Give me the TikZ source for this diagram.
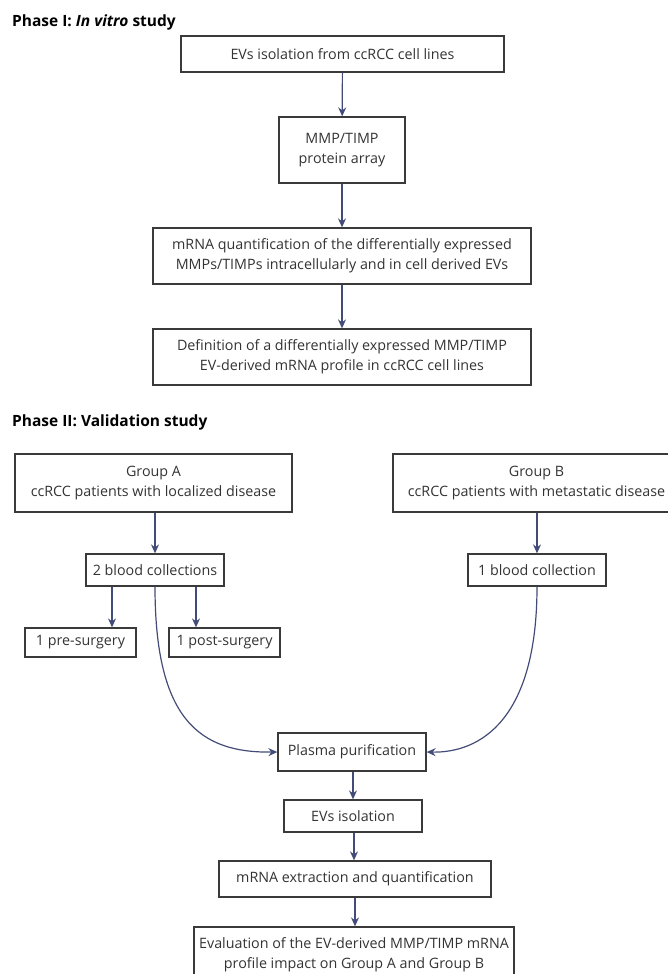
\documentclass[tikz,border=0pt]{standalone}
\usepackage{fontspec}
\setmainfont{Open Sans}
\usetikzlibrary{arrows.meta}
\definecolor{arrcol}{HTML}{434C78}
\definecolor{boxcol}{HTML}{3A3A3A}
\definecolor{txtcol}{HTML}{333333}
\tikzset{
  box/.style={draw=boxcol, line width=1.3pt, rectangle, inner sep=0pt, align=center,
    text=txtcol, font=\fontsize{14.3}{20}\selectfont},
  arr/.style={draw=arrcol, line width=1.2pt, -{Stealth[length=9pt,width=8pt,inset=3pt]}},
  ttl/.style={anchor=west, inner sep=0pt, text=black, font=\fontsize{15.5}{18}\selectfont\bfseries}
}
\begin{document}
\begin{tikzpicture}[x=1pt,y=-1pt]
\useasboundingbox (0,0) rectangle (667,974);
\node[ttl] (t1) at (12,22) {Phase I: \textit{In vitro} study};
\node[box, minimum width=323pt, minimum height=36pt] (b1) at (342.5,54) {EVs isolation from ccRCC cell lines};
\node[box, minimum width=126pt, minimum height=66pt] (b2) at (342,150) {MMP/TIMP\\protein array};
\node[box, minimum width=378pt, minimum height=56pt] (b3) at (342,256) {mRNA quantification of the differentially expressed\\MMPs/TIMPs intracellularly and in cell derived EVs};
\node[box, minimum width=378pt, minimum height=56pt] (b4) at (342,357) {Definition of a differentially expressed MMP/TIMP\\EV-derived mRNA profile in ccRCC cell lines};
\draw[arr] (b1) -- (b2);
\draw[arr] (b2) -- (b3);
\draw[arr] (b3) -- (b4);
\node[ttl] (t2) at (12,422) {Phase II: Validation study};
\node[box, minimum width=277pt, minimum height=58pt] (ga) at (153.5,483) {Group A\\ccRCC patients with localized disease};
\node[box, minimum width=287pt, minimum height=58pt] (gb) at (536.5,483) {Group B\\ccRCC patients with metastatic disease};
\node[box, minimum width=138pt, minimum height=32pt] (bc2) at (155,570) {2 blood collections};
\node[box, minimum width=138pt, minimum height=32pt] (bc1) at (537,570) {1 blood collection};
\node[box, minimum width=111pt, minimum height=29pt] (pre) at (80.5,642.5) {1 pre-surgery};
\node[box, minimum width=111pt, minimum height=29pt] (post) at (224.5,642.5) {1 post-surgery};
\node[box, minimum width=148pt, minimum height=38pt] (pl) at (352,752) {Plasma purification};
\node[box, minimum width=138pt, minimum height=32pt] (ev) at (353,816) {EVs isolation};
\node[box, minimum width=272pt, minimum height=36pt] (mr) at (355,879) {mRNA extraction and quantification};
\node[box, minimum width=320pt, minimum height=56pt] (evl) at (354,955) {Evaluation of the EV-derived MMP/TIMP mRNA\\profile impact on Group A and Group B};
\draw[arr] (ga.south -| bc2) -- (bc2.north);
\draw[arr] (gb.south -| bc1) -- (bc1.north);
\draw[arr] ([xshift=-43pt]bc2.south) -- ([xshift=-43pt]bc2.south |- pre.north);
\draw[arr] ([xshift=41pt]bc2.south) -- ([xshift=41pt]bc2.south |- post.north);
\draw[arr] (bc2.south) .. controls (155,720) and (200,753) .. (pl.west);
\draw[arr] (bc1.south) .. controls (537,720) and (480,753) .. (pl.east);
\draw[arr] (pl.south -| ev) -- (ev.north);
\draw[arr] ([xshift=1pt]ev.south) -- ([xshift=1pt]ev.south |- mr.north);
\draw[arr] (mr) -- (mr.south |- evl.north);
\end{tikzpicture}
\end{document}
